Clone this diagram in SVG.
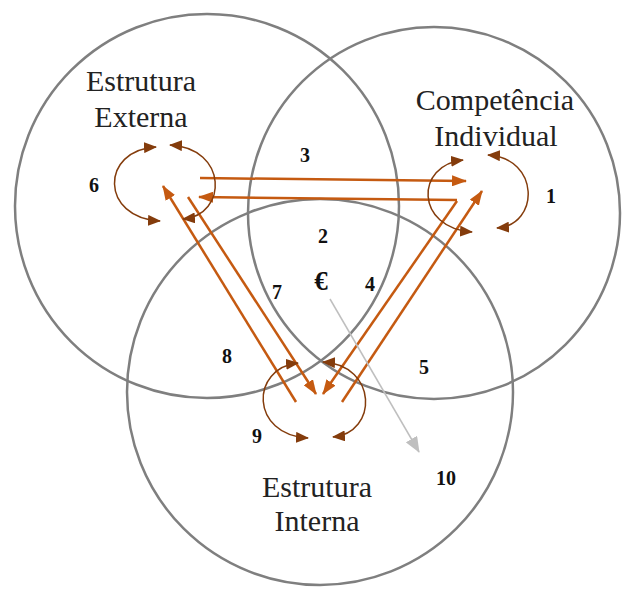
<svg xmlns="http://www.w3.org/2000/svg" width="627" height="590" viewBox="0 0 627 590">
<style>
.circle{fill:none;stroke:#7f7f7f;stroke-width:2.5}
.label{font-family:"Liberation Serif","Times New Roman",serif;font-size:30px;fill:#222;text-anchor:middle}
.num{font-family:"Liberation Serif","Times New Roman",serif;font-size:20px;font-weight:bold;fill:#111;text-anchor:middle}
.straight{fill:none;stroke:#c55a11;stroke-width:2.5;marker-end:url(#ao)}
.curve{fill:none;stroke:#843c0c;stroke-width:1.5;marker-start:url(#ab);marker-end:url(#ab)}
.gray{fill:none;stroke:#bfbfbf;stroke-width:1.5;marker-end:url(#ag)}
</style>
<defs>
<marker id="ao" markerUnits="userSpaceOnUse" markerWidth="15" markerHeight="11" refX="14" refY="5.5" orient="auto"><path d="M0,0 L15,5.5 L0,11 z" fill="#c55a11"/></marker>
<marker id="ab" markerUnits="userSpaceOnUse" markerWidth="13" markerHeight="11" refX="12" refY="5.5" orient="auto-start-reverse"><path d="M0,0 L13,5.5 L0,11 z" fill="#843c0c"/></marker>
<marker id="ag" markerUnits="userSpaceOnUse" markerWidth="16" markerHeight="13" refX="15" refY="6.5" orient="auto"><path d="M0,0 L16,6.5 L0,13 z" fill="#bfbfbf"/></marker>
</defs>
<g id="circle-externa"><circle class="circle" cx="207" cy="206" r="192"/></g>
<g id="circle-competencia"><circle class="circle" cx="434" cy="213" r="186"/></g>
<g id="circle-interna"><circle class="circle" cx="320" cy="392" r="193"/></g>
<g id="node-externa"><text class="label" x="141" y="91">Estrutura</text><text class="label" x="141" y="127">Externa</text></g>
<g id="node-competencia"><text class="label" x="495" y="110">Competência</text><text class="label" x="496" y="146">Individual</text></g>
<g id="node-interna"><text class="label" x="317" y="497">Estrutura</text><text class="label" x="317" y="531">Interna</text></g>
<g id="connectors">
<path class="straight" d="M200,178 L466,181"/>
<path class="straight" d="M457,200 L199,197"/>
<path class="straight" d="M296,402 L163,186"/>
<path class="straight" d="M188,197 L316,394"/>
<path class="straight" d="M457,201 L323,394"/>
<path class="straight" d="M342,402 L482,191"/>
<path class="curve" d="M156,147 C100,150 100,218 160,221"/>
<path class="curve" d="M170,145 C228,148 228,215 183,219"/>
<path class="curve" d="M463,160 C415,165 415,228 472,232"/>
<path class="curve" d="M488,155 C540,158 540,225 497,228"/>
<path class="curve" d="M298,363 C250,368 250,435 308,438"/>
<path class="curve" d="M323,362 C378,365 378,433 333,437"/>
<path class="gray" d="M330,299 L419,452"/>
</g>
<g id="numbers">
<text class="num" x="305" y="162">3</text>
<text class="num" x="94" y="192">6</text>
<text class="num" x="551" y="203">1</text>
<text class="num" x="323" y="243">2</text>
<text class="num" x="321" y="290" style="font-size:27px">€</text>
<text class="num" x="277" y="299">7</text>
<text class="num" x="370" y="291">4</text>
<text class="num" x="227" y="363">8</text>
<text class="num" x="424" y="374">5</text>
<text class="num" x="257" y="443">9</text>
<text class="num" x="446" y="485">10</text>
</g>
</svg>
